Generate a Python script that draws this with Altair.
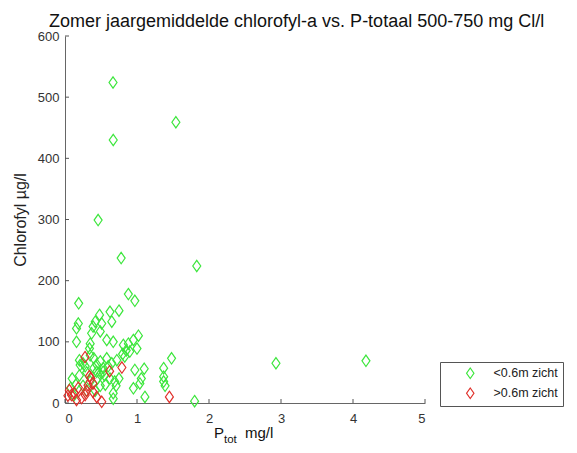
import altair as alt
import pandas as pd

# green: <0.6m zicht
green_x = [0.667, 0.67, 1.54, 0.46, 0.78, 1.83, 0.88, 0.97, 0.19, 2.93, 4.18, 1.80,
           0.48, 0.625, 0.75, 0.42, 0.65, 0.51, 0.185, 0.16, 0.37, 0.49, 0.39,
           0.16, 0.35, 0.58, 0.67, 0.81, 1.02, 0.95, 0.88, 0.90, 1.00,
           0.97, 1.10, 1.06, 1.04, 0.95, 1.11, 1.37, 1.48, 1.37, 1.37, 1.39,
           0.49, 0.58, 0.65, 0.72, 0.83, 0.40, 0.21, 0.44, 0.53, 0.625, 0.69,
           0.34, 0.35, 0.25, 0.44, 0.53, 0.40, 0.49, 0.75, 0.67, 0.71, 0.25, 0.49,
           0.10, 0.15, 0.20, 0.30, 0.20, 0.28, 0.35, 0.45, 0.55, 0.60, 0.30, 0.08,
           0.12, 0.42, 0.56, 0.80, 0.85, 0.67]
green_y = [524, 430, 459, 299, 237, 224, 178, 167, 163, 65, 69, 3,
           144, 149, 151, 133, 133, 130, 130, 122, 114, 117, 125,
           100, 97, 103, 100, 95, 110, 103, 97, 84, 89,
           54, 56, 40, 32, 24, 10, 57, 73, 43, 35, 28,
           68, 73, 65, 70, 76, 73, 62, 51, 51, 40, 35,
           89, 78, 65, 63, 57, 57, 47, 40, 16, 28, 28, 28,
           40, 30, 45, 50, 70, 60, 35, 40, 45, 60, 20, 25,
           12, 20, 30, 80, 86, 7]

# red: >0.6m zicht
red_x = [0.278, 0.79, 0.62, 0.36, 0.34, 0.06, 0.09, 0.185, 0.28, 0.39, 0.44,
         0.51, 0.23, 0.32, 0.39, 0.16, 0.04, 1.45, 0.30, 0.13]
red_y = [75, 58, 52, 40, 44, 21, 13, 25, 13, 18, 10,
         2, 8, 29, 32, 5, 12, 10, 20, 16]

labels = ["<0.6m zicht", ">0.6m zicht"]
colors = ["#3ce63c", "#e0302a"]
x_ticks = [0, 1, 2, 3, 4, 5]
y_ticks = [0, 100, 200, 300, 400, 500, 600]

DIAMOND = "M0,-1L0.7,0L0,1L-0.7,0Z"
W, H = 360, 367
FONT = "Liberation Sans"

df = pd.DataFrame({
    "P": green_x + red_x,
    "chl": green_y + red_y,
    "groep": [labels[0]] * len(green_x) + [labels[1]] * len(red_x),
})

xs = alt.Scale(domain=[0, 5], nice=False)
ys = alt.Scale(domain=[0, 600], nice=False)

points = alt.Chart(df).mark_point(
    shape=DIAMOND, filled=False, size=130, strokeWidth=1.2, opacity=1
).encode(
    x=alt.X("P:Q", scale=xs, axis=alt.Axis(values=x_ticks, title=None, ticks=False,
                                            labelPadding=9, format="d")),
    y=alt.Y("chl:Q", scale=ys, axis=alt.Axis(values=y_ticks, title="Chlorofyl µg/l",
                                              ticks=False, labelPadding=6, format="d",
                                              titlePadding=9)),
    color=alt.Color("groep:N", scale=alt.Scale(domain=labels, range=colors),
                    legend=alt.Legend(title=None, orient="none", legendX=375, legendY=326,
                                      strokeColor="#555", fillColor="white", padding=5,
                                      symbolType=DIAMOND, symbolSize=110,
                                      symbolStrokeWidth=1.2, symbolOffset=19,
                                      labelOffset=17, rowPadding=4,
                                      labelFont=FONT, labelFontSize=12.5, labelColor="#222")),
)

xt = alt.Chart(pd.DataFrame({"t": x_ticks})).mark_rule(color="#555").encode(
    x=alt.X("t:Q", scale=xs), y=alt.value(H), y2=alt.value(H - 4))
yt = alt.Chart(pd.DataFrame({"t": y_ticks})).mark_rule(color="#555").encode(
    y=alt.Y("t:Q", scale=ys), x=alt.value(0), x2=alt.value(4))

def txt(s, x, y, size, align="left", baseline="alphabetic"):
    return alt.Chart(pd.DataFrame({"s": [s]})).mark_text(
        font=FONT, fontSize=size, color="#111", align=align, baseline=baseline
    ).encode(text="s:N", x=alt.value(x), y=alt.value(y))

title = txt("Zomer jaargemiddelde chlorofyl-a vs. P-totaal 500-750 mg Cl/l", -16, -9, 18)
xp = txt("P", 149, H + 35, 15)
xsub = txt("tot", 159, H + 40, 11.5)
xmg = txt("mg/l", 180, H + 35, 15)

chart = alt.layer(xt, yt, points, title, xp, xsub, xmg).properties(
    width=W, height=H,
    autosize=alt.AutoSizeParams(type="none"),
    padding={"left": 57, "top": 28, "right": 144, "bottom": 42},
).configure_view(stroke=None).configure_axis(
    grid=False, domainColor="#666", labelColor="#333", labelFont=FONT,
    labelFontSize=13, titleFont=FONT, titleFontSize=16, titleFontWeight="normal",
    titleColor="#222",
)

chart.save("out.html", embed_options={"renderer": "svg", "actions": False})
